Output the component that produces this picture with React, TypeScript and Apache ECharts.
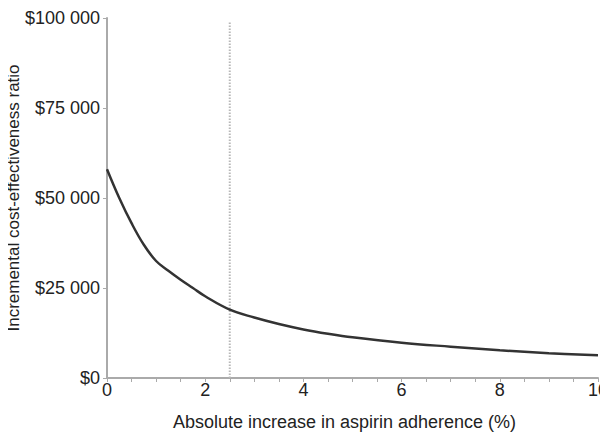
import React, { useEffect, useRef } from "react";
import * as echarts from "echarts";

const xValues = [0, 0.25, 0.5, 0.75, 1.0, 1.25, 1.5, 1.75, 2.0, 2.5, 3, 3.5, 4, 4.5, 5, 6, 7, 8, 9, 10];
const icerValues = [58000, 50000, 43000, 37000, 32500, 29800, 27300, 25000, 22700, 19000, 16800, 15000, 13500, 12300, 11300, 9800, 8700, 7700, 6900, 6300];
const thresholdX = [2.5, 2.5];
const thresholdY = [0, 98900];
const yTicks = [0, 25000, 50000, 75000, 100000];

const fmt = (v: number) => {
  if (v === 0) return "$0";
  const s = String(v);
  return "$" + s.slice(0, s.length - 3) + " " + s.slice(s.length - 3);
};

export default function App() {
  const ref = useRef<HTMLDivElement>(null);
  useEffect(() => {
    if (!ref.current) return;
    const chart = echarts.init(ref.current, undefined, { renderer: "svg" });
    const font = "'Liberation Sans', Arial, Helvetica, sans-serif";
    chart.setOption({
      animation: false,
      backgroundColor: "#fff",
      grid: { left: 107, right: 10, top: 18, bottom: 57, containLabel: false, outerBoundsMode: "none" },
      xAxis: {
        type: "value",
        min: 0,
        max: 10,
        interval: 2,
        name: "Absolute increase in aspirin adherence (%)",
        nameLocation: "middle",
        nameGap: 35,
        nameMoveOverlap: false,
        nameTextStyle: { fontFamily: font, fontSize: 18, color: "#222", padding: [0, 16, 0, 0] },
        axisLine: { show: true, lineStyle: { color: "#aaa", width: 2 } },
        axisTick: { show: true, length: 4, lineStyle: { color: "#aaa" } },
        minorTick: { show: true, splitNumber: 4, length: 4, lineStyle: { color: "#aaa" } },
        axisLabel: { fontFamily: font, fontSize: 18, color: "#222", margin: 3 },
        splitLine: { show: false },
      },
      yAxis: {
        type: "value",
        min: yTicks[0],
        max: yTicks[yTicks.length - 1],
        interval: 25000,
        name: "Incremental cost-effectiveness ratio",
        nameLocation: "middle",
        nameGap: 85,
        nameMoveOverlap: false,
        nameTextStyle: { fontFamily: font, fontSize: 17, color: "#222" },
        axisLine: { show: true, lineStyle: { color: "#aaa", width: 2 } },
        axisTick: { show: true, length: 4, lineStyle: { color: "#aaa" } },
        axisLabel: { fontFamily: font, fontSize: 18, color: "#222", margin: 7, formatter: fmt },
        splitLine: { show: false },
      },
      series: [
        {
          type: "line",
          data: thresholdX.map((x, i) => [x, thresholdY[i]]),
          symbol: "none",
          lineStyle: { color: "#b8b8b8", width: 2, type: [1.5, 1.5] },
          z: 1,
        },
        {
          type: "line",
          data: xValues.map((x, i) => [x, icerValues[i]]),
          symbol: "none",
          smooth: 0.4,
          lineStyle: { color: "#333", width: 2.5 },
          z: 2,
        },
      ],
    });
    return () => chart.dispose();
  }, []);
  return <div ref={ref} style={{ width: 608, height: 435, marginLeft: -8, marginTop: -8 }} />;
}
